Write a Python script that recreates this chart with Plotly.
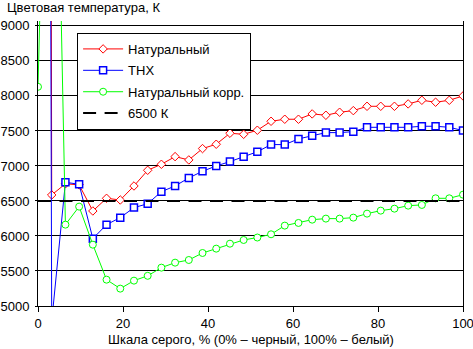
import plotly.graph_objects as go

# 32 grayscale steps, 0..100 %
x_steps = [i * 100 / 31 for i in range(32)]

natural = [100000, 6586, 6745, 6730, 6357, 6538, 6514, 6714, 6938, 7024,
           7133, 7086, 7248, 7310, 7467, 7452, 7510, 7638, 7667, 7667,
           7743, 7724, 7767, 7790, 7852, 7852, 7852, 7886, 7938, 7910,
           7938, 8000]
thx = [70000, 4780, 6767, 6738, 5962, 6162, 6262, 6405, 6460, 6633,
       6714, 6829, 6924, 7000, 7062, 7133, 7203, 7305, 7305, 7386,
       7433, 7476, 7476, 7490, 7552, 7552, 7552, 7552, 7567, 7567,
       7552, 7505]
natural_corr = [8130, 15800, 6162, 6419, 5876, 5376, 5248, 5362, 5431, 5548,
                5619, 5657, 5757, 5819, 5890, 5943, 5978, 6024, 6148, 6186,
                6233, 6248, 6248, 6262, 6319, 6362, 6390, 6433, 6443, 6538,
                6538, 6590]
ref_x = [0, 100]
ref_y = [6500, 6500]

names = ["Натуральный", "THX", "Натуральный корр.", "6500 К"]
y_ticks = list(range(5000, 9001, 500))
x_ticks = [0, 20, 40, 60, 80, 100]

FONT = "Liberation Sans, Arial, sans-serif"

fig = go.Figure()
fig.add_trace(go.Scatter(
    x=x_steps, y=natural, name=names[0], mode="lines+markers", legendgroup="a",
    line=dict(color="#FF0000", width=1),
    marker=dict(symbol="diamond", size=6.5, color="white",
                line=dict(color="#FF0000", width=1))))
fig.add_trace(go.Scatter(
    x=x_steps, y=thx, name=names[1], mode="lines+markers", legendgroup="b",
    line=dict(color="#0000FF", width=1),
    marker=dict(symbol="square", size=7, color="white",
                line=dict(color="#0000FF", width=1.5))))
fig.add_trace(go.Scatter(
    x=x_steps, y=natural_corr, name=names[2], mode="lines+markers", legendgroup="c",
    line=dict(color="#00FF00", width=1),
    marker=dict(symbol="circle", size=7, color="white",
                line=dict(color="#00FF00", width=1))))
fig.add_trace(go.Scatter(
    x=ref_x, y=ref_y, name=names[3], mode="lines", legendgroup="d",
    line=dict(color="black", width=2, dash="13px,8.5px")))

fig.update_layout(
    width=473, height=349,
    margin=dict(l=38, r=10, t=21, b=43, autoexpand=False),
    paper_bgcolor="white", plot_bgcolor="white",
    font=dict(family=FONT, size=13, color="black"),
    showlegend=True,
    legend=dict(x=0.092, y=0.958, xanchor="left", yanchor="top",
                bgcolor="white", bordercolor="black", borderwidth=1,
                font=dict(family=FONT, size=13, color="black"),
                itemwidth=40, traceorder="grouped", tracegroupgap=1.5),
    xaxis=dict(range=[0, 100], tickvals=x_ticks, showgrid=False, zeroline=False,
               automargin=False, ticklabeloverflow="allow",
               showline=True, linecolor="black", linewidth=1,
               ticks="outside", ticklen=5, tickcolor="black",
               tickfont=dict(family=FONT, size=13, color="black")),
    yaxis=dict(range=[5000, 9070], tickvals=y_ticks, showgrid=True,
               automargin=False, ticklabelstandoff=3, ticklabeloverflow="allow",
               gridcolor="black", gridwidth=1, zeroline=False,
               showline=True, mirror=True, linecolor="black", linewidth=1,
               ticks="outside", ticklen=2, tickcolor="black",
               tickfont=dict(family=FONT, size=13, color="black")),
    annotations=[
        dict(text="Цветовая температура, К", xref="paper", yref="paper",
             x=-0.0775, y=1.049, xanchor="left", yanchor="middle",
             showarrow=False, font=dict(family=FONT, size=13, color="black")),
        dict(text="Шкала серого, % (0% – черный, 100% – белый)", xref="paper",
             yref="paper", x=0.5, y=-0.119, xanchor="center", yanchor="middle",
             showarrow=False, font=dict(family=FONT, size=13, color="black")),
    ],
)

fig.write_html("out.html")
